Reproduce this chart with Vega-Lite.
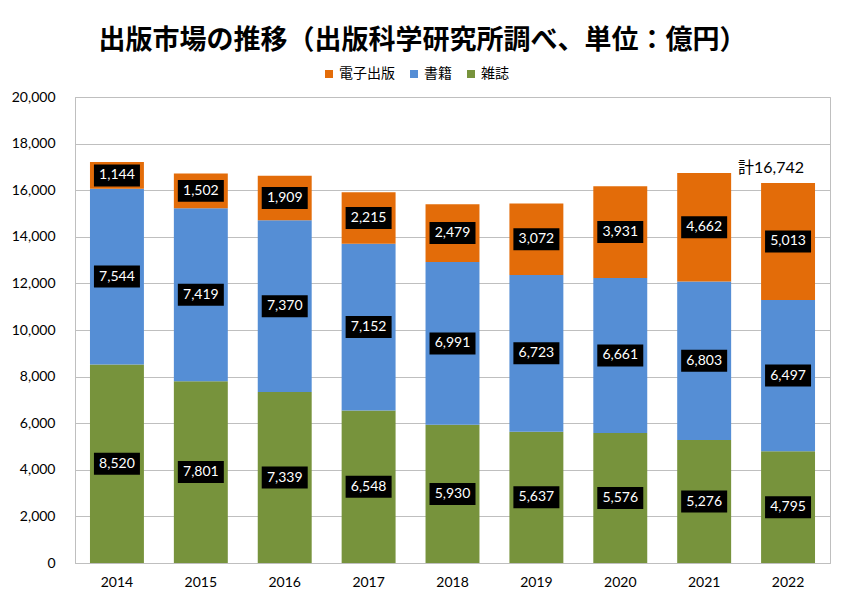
{
  "$schema": "https://vega.github.io/schema/vega-lite/v6.json",
  "width": 755,
  "height": 466,
  "autosize": {"type": "none"},
  "padding": {"left": 75, "top": 97, "right": 14, "bottom": 51},
  "background": "white",
  "title": {
    "text": "出版市場の推移（出版科学研究所調べ、単位：億円）",
    "font": "Noto Sans CJK JP",
    "fontSize": 27,
    "fontWeight": "bold",
    "color": "#000000",
    "anchor": "middle",
    "dx": -30,
    "offset": 12
  },
  "config": {
    "view": {"stroke": "#BFBFBF"},
    "axis": {"labelFont": "Lato", "labelFontSize": 14, "labelColor": "#000000"}
  },
  "data": {
    "values": [
      {"year": "2014", "type": "雑誌", "ord": 1, "value": 8520},
      {"year": "2014", "type": "書籍", "ord": 2, "value": 7544},
      {"year": "2014", "type": "電子出版", "ord": 3, "value": 1144},
      {"year": "2015", "type": "雑誌", "ord": 1, "value": 7801},
      {"year": "2015", "type": "書籍", "ord": 2, "value": 7419},
      {"year": "2015", "type": "電子出版", "ord": 3, "value": 1502},
      {"year": "2016", "type": "雑誌", "ord": 1, "value": 7339},
      {"year": "2016", "type": "書籍", "ord": 2, "value": 7370},
      {"year": "2016", "type": "電子出版", "ord": 3, "value": 1909},
      {"year": "2017", "type": "雑誌", "ord": 1, "value": 6548},
      {"year": "2017", "type": "書籍", "ord": 2, "value": 7152},
      {"year": "2017", "type": "電子出版", "ord": 3, "value": 2215},
      {"year": "2018", "type": "雑誌", "ord": 1, "value": 5930},
      {"year": "2018", "type": "書籍", "ord": 2, "value": 6991},
      {"year": "2018", "type": "電子出版", "ord": 3, "value": 2479},
      {"year": "2019", "type": "雑誌", "ord": 1, "value": 5637},
      {"year": "2019", "type": "書籍", "ord": 2, "value": 6723},
      {"year": "2019", "type": "電子出版", "ord": 3, "value": 3072},
      {"year": "2020", "type": "雑誌", "ord": 1, "value": 5576},
      {"year": "2020", "type": "書籍", "ord": 2, "value": 6661},
      {"year": "2020", "type": "電子出版", "ord": 3, "value": 3931},
      {"year": "2021", "type": "雑誌", "ord": 1, "value": 5276},
      {"year": "2021", "type": "書籍", "ord": 2, "value": 6803},
      {"year": "2021", "type": "電子出版", "ord": 3, "value": 4662},
      {"year": "2022", "type": "雑誌", "ord": 1, "value": 4795},
      {"year": "2022", "type": "書籍", "ord": 2, "value": 6497},
      {"year": "2022", "type": "電子出版", "ord": 3, "value": 5013}
    ]
  },
  "transform": [
    {"stack": "value", "groupby": ["year"], "sort": [{"field": "ord"}], "as": ["v0", "v1"]},
    {"calculate": "(datum.v0 + datum.v1) / 2", "as": "mid"}
  ],
  "encoding": {
    "x": {
      "field": "year",
      "type": "ordinal",
      "scale": {"paddingInner": 0.357, "paddingOuter": 0.1785},
      "axis": {"title": null, "labelAngle": 0, "ticks": false, "domainColor": "#BFBFBF", "labelPadding": 12}
    }
  },
  "layer": [
    {
      "mark": {"type": "bar"},
      "encoding": {
        "y": {
          "field": "v0",
          "type": "quantitative",
          "scale": {"domain": [0, 20000], "nice": false},
          "axis": {
            "title": null,
            "values": [0, 2000, 4000, 6000, 8000, 10000, 12000, 14000, 16000, 18000, 20000],
            "format": ",d",
            "ticks": false,
            "domainColor": "#BFBFBF",
            "gridColor": "#BFBFBF",
            "labelPadding": 20
          }
        },
        "y2": {"field": "v1"},
        "color": {
          "field": "type",
          "type": "nominal",
          "scale": {"domain": ["電子出版", "書籍", "雑誌"], "range": ["#E36C09", "#558ED5", "#77933C"]},
          "legend": {
            "title": null,
            "orient": "none",
            "legendX": 247,
            "legendY": -30,
            "direction": "horizontal",
            "symbolType": "square",
            "symbolSize": 64,
            "symbolStrokeWidth": 0,
            "labelFont": "Noto Sans CJK JP",
            "labelFontSize": 14,
            "labelColor": "#000000",
            "columnPadding": 12,
            "labelOffset": 3
          }
        }
      }
    },
    {
      "mark": {"type": "point", "shape": "M-1,-0.478L1,-0.478L1,0.478L-1,0.478Z", "size": 2116, "filled": true, "color": "#000000", "opacity": 1, "strokeWidth": 0},
      "encoding": {
        "y": {"field": "mid", "type": "quantitative"}
      }
    },
    {
      "mark": {"type": "text", "font": "Lato", "fontSize": 14, "color": "#FFFFFF", "baseline": "middle", "align": "center"},
      "encoding": {
        "y": {"field": "mid", "type": "quantitative"},
        "text": {"field": "value", "type": "quantitative", "format": ",d"}
      }
    },
    {
      "data": {"values": [{"year": "2022", "total": 16742, "label": "計16,742"}]},
      "transform": [],
      "mark": {"type": "text", "font": "Lato, Noto Sans CJK JP", "fontSize": 16, "color": "#000000", "align": "left", "baseline": "alphabetic", "dx": -50},
      "encoding": {
        "y": {"field": "total", "type": "quantitative"},
        "text": {"field": "label", "type": "nominal"}
      }
    }
  ]
}
